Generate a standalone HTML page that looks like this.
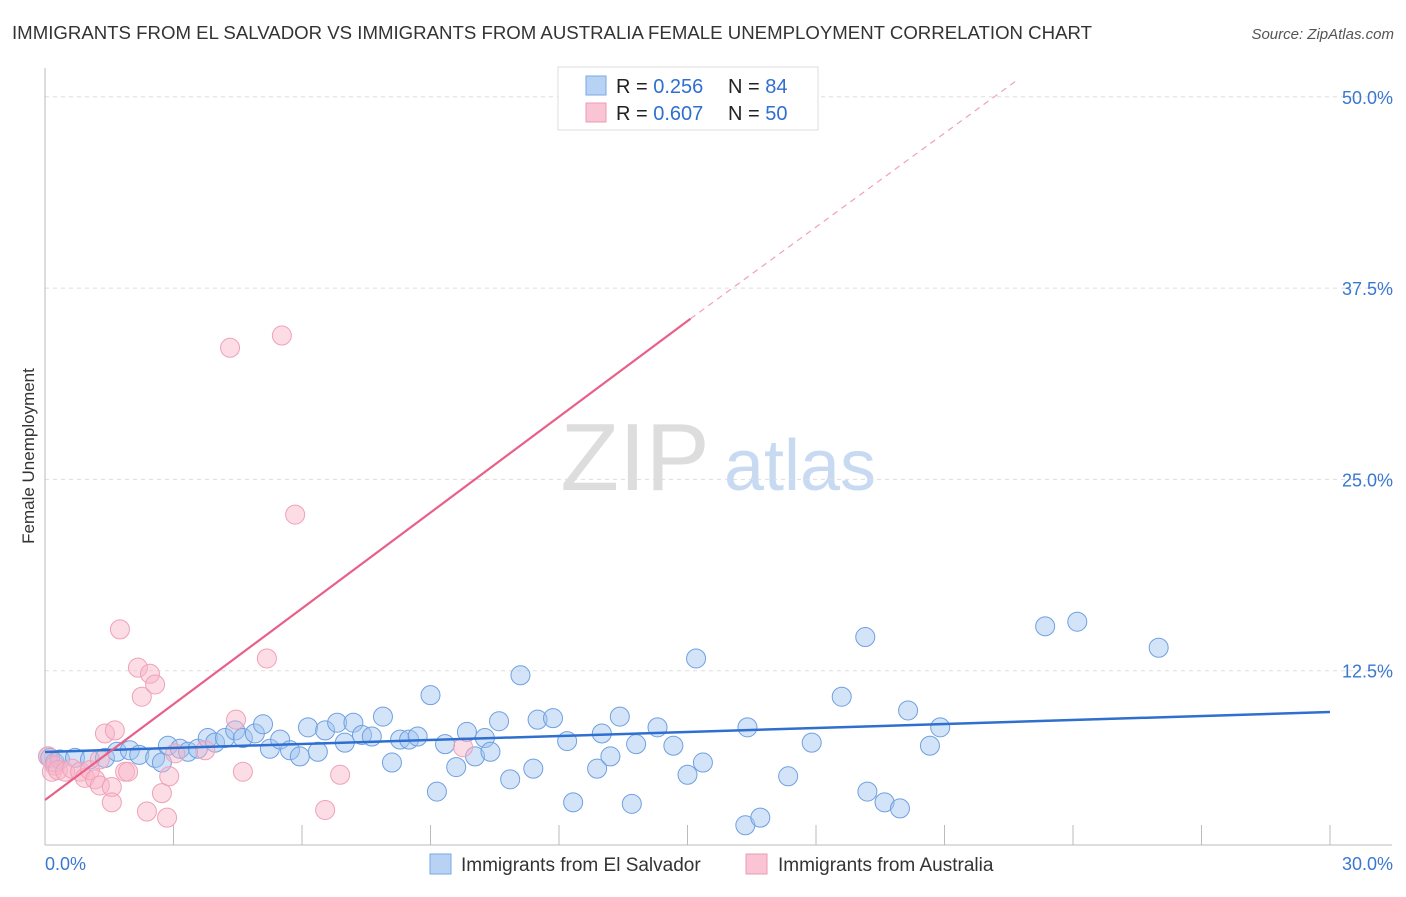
<!DOCTYPE html>
<html><head><meta charset="utf-8"><style>
body{margin:0;background:#fff;font-family:"Liberation Sans",sans-serif;}
svg text{font-family:"Liberation Sans",sans-serif;}
</style></head><body>
<svg width="1406" height="892" xmlns="http://www.w3.org/2000/svg">
<text x="12" y="39" font-size="18" fill="#333" textLength="1080" lengthAdjust="spacingAndGlyphs">IMMIGRANTS FROM EL SALVADOR VS IMMIGRANTS FROM AUSTRALIA FEMALE UNEMPLOYMENT CORRELATION CHART</text>
<text x="1394" y="39" font-size="15" fill="#555" font-style="italic" text-anchor="end">Source: ZipAtlas.com</text>
<text x="34" y="456" font-size="17" fill="#333" text-anchor="middle" transform="rotate(-90 34 456)">Female Unemployment</text>
<g><text x="635" y="490" font-size="96" fill="#ddd" font-family="Liberation Serif" text-anchor="middle">ZIP</text><text x="800" y="490" font-size="72" fill="#c8daf2" text-anchor="middle">atlas</text></g>
<g id="grid"></g><g id="axes"></g><g id="pts"></g><g id="trend"></g>
<g>
<rect x="558" y="67" width="260" height="63" fill="#fff" stroke="#ddd"/>
<rect x="586" y="76" width="20" height="19" fill="#b8d2f4" stroke="#7aa8e6"/>
<rect x="586" y="103" width="20" height="19" fill="#f9c4d4" stroke="#f09ab6"/>
<text x="616" y="93" font-size="20" fill="#222">R = <tspan fill="#2f6fd0">0.256</tspan></text>
<text x="728" y="93" font-size="20" fill="#222">N = <tspan fill="#2f6fd0">84</tspan></text>
<text x="616" y="120" font-size="20" fill="#222">R = <tspan fill="#2f6fd0">0.607</tspan></text>
<text x="728" y="120" font-size="20" fill="#222">N = <tspan fill="#2f6fd0">50</tspan></text>
</g>
<g>
<rect x="430" y="854" width="21" height="20" fill="#b8d2f4" stroke="#7aa8e6"/>
<text x="461" y="871" font-size="19" fill="#333">Immigrants from El Salvador</text>
<rect x="746" y="854" width="21" height="20" fill="#f9c4d4" stroke="#f09ab6"/>
<text x="778" y="871" font-size="19" fill="#333">Immigrants from Australia</text>
</g>
</svg>
<script>
const yTicks=[12.5,25,37.5,50];
const yTickLabels=["12.5%","25.0%","37.5%","50.0%"];
const xTicks=[0,3,6,9,12,15,18,21,24,27,30];
const blueX=[0.07,0.12,0.23,0.35,0.7,1.05,1.4,1.68,1.98,2.2,2.57,2.73,2.87,3.15,3.34,3.57,3.8,3.97,4.2,4.44,4.62,4.9,5.09,5.25,5.49,5.72,5.95,6.14,6.37,6.54,6.82,7.0,7.2,7.4,7.63,7.89,8.1,8.29,8.5,8.7,9.0,9.15,9.34,9.6,9.85,10.04,10.27,10.4,10.6,10.86,11.1,11.4,11.5,11.86,12.19,12.33,12.89,13.0,13.2,13.42,13.7,13.8,14.3,14.67,15.0,15.2,15.36,16.35,16.7,16.4,17.35,17.9,18.6,19.15,19.2,19.6,19.96,20.15,20.66,20.9,23.35,24.1,26.0];
const blueY=[6.9,6.8,6.5,6.7,6.8,6.7,6.8,7.2,7.3,7.0,6.8,6.5,7.6,7.4,7.2,7.4,8.1,7.8,8.1,8.6,8.1,8.4,9.0,7.4,8.0,7.3,6.9,8.8,7.2,8.6,9.1,7.8,9.1,8.3,8.2,9.5,6.5,8.0,8.0,8.2,10.9,4.6,7.7,6.2,8.5,6.9,8.1,7.2,9.2,5.4,12.2,6.1,9.3,9.4,7.9,3.9,6.1,8.4,6.9,9.5,3.8,7.7,8.8,7.6,5.7,13.3,6.5,2.4,2.9,8.8,5.6,7.8,10.8,14.7,4.6,3.9,3.5,9.9,7.6,8.8,15.4,15.7,14.0];
const pinkX=[0.07,0.16,0.23,0.3,0.47,0.63,0.82,0.93,1.05,1.17,1.28,1.28,1.4,1.56,1.56,1.63,1.75,1.87,1.94,2.17,2.26,2.45,2.57,2.38,2.73,2.85,2.9,3.04,3.74,4.32,4.46,4.62,5.18,5.53,5.84,6.54,6.89,9.76,12.33];
const pinkY=[6.9,5.9,6.3,6.0,5.9,6.1,5.9,5.5,6.0,5.4,5.0,6.7,8.4,4.9,3.9,8.6,15.2,5.9,5.9,12.7,10.8,12.3,11.6,3.3,4.5,2.9,5.6,7.1,7.3,33.6,9.3,5.9,13.3,34.4,22.7,3.4,5.7,7.5,49.7];
const blueTrend=[7.19,9.8];
const pinkTrend=[4.05,35.5,51.1];
const pinkTrendX=[0,15.07,22.7];
const NS="http://www.w3.org/2000/svg";
const X=v=>45+v/30*1285, Y=v=>862-v/12.5*191.3;
function mk(t,a,p){const e=document.createElementNS(NS,t);for(const k in a)e.setAttribute(k,a[k]);p.appendChild(e);return e;}
const grid=document.getElementById('grid'),axes=document.getElementById('axes'),pts=document.getElementById('pts'),tr=document.getElementById('trend');
yTicks.forEach((t,i)=>{const l=mk('line',{x1:45,x2:1392,y1:Y(t),y2:Y(t),stroke:'#ddd','stroke-dasharray':'4,4'},grid);

const tx=mk('text',{x:1393,y:Y(t)+7,'font-size':18,fill:'#3a78d0','text-anchor':'end'},axes);tx.textContent=yTickLabels[i];
});
const ax=mk('line',{x1:45,x2:1392,y1:845,y2:845,stroke:'#bbb'},axes);
const ay=mk('line',{x1:45,x2:45,y1:68,y2:845,stroke:'#bbb'},axes);
xTicks.forEach(t=>{const l=mk('line',{x1:X(t),x2:X(t),y1:825,y2:845,stroke:'#bbb'},axes);});
const x0=mk('text',{x:45,y:870,'font-size':18,fill:'#3a78d0'},axes);x0.textContent='0.0%';
const x1=mk('text',{x:1393,y:870,'font-size':18,fill:'#3a78d0','text-anchor':'end'},axes);x1.textContent='30.0%';
blueX.forEach((v,i)=>{const c=mk('circle',{cx:X(v),cy:Y(blueY[i]),r:9.5,fill:'rgba(160,196,240,0.45)',stroke:'#6fa0e0','stroke-width':1},pts);
});
pinkX.forEach((v,i)=>{const c=mk('circle',{cx:X(v),cy:Y(pinkY[i]),r:9.5,fill:'rgba(248,180,200,0.45)',stroke:'#f0a0b8','stroke-width':1},pts);
});
const bl=mk('line',{x1:X(0),y1:Y(blueTrend[0]),x2:X(30),y2:Y(blueTrend[1]),stroke:'#2f6fd0','stroke-width':2.5},tr);

const pl=mk('line',{x1:X(pinkTrendX[0]),y1:Y(pinkTrend[0]),x2:X(pinkTrendX[1]),y2:Y(pinkTrend[1]),stroke:'#e8608a','stroke-width':2.2},tr);

const pd=mk('line',{x1:X(pinkTrendX[1]),y1:Y(pinkTrend[1]),x2:X(pinkTrendX[2]),y2:Y(pinkTrend[2]),stroke:'#f0a0b8','stroke-width':1.2,'stroke-dasharray':'6,5'},tr);

</script>
</body></html>
